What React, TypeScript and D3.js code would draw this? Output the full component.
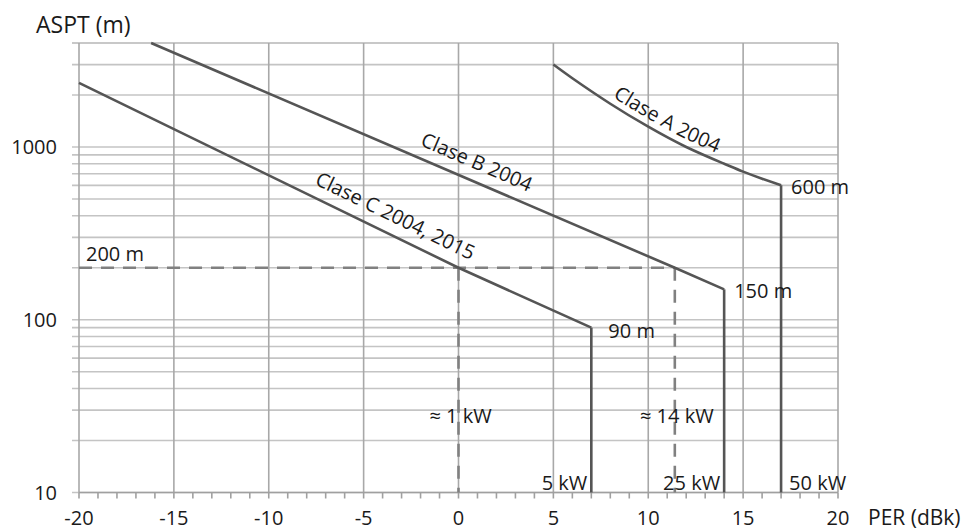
import React, { useEffect, useRef } from "react";
import * as d3 from "d3";

// Protection distance (ASPT, metres) against effective radiated power (PER, dBk)
type Pt = [number, number];

const claseA: Pt[] = [[5, 3000], [6, 2500], [8, 1780], [10, 1310], [12, 1000], [14, 800], [15, 720], [16, 655], [17, 600]];
const claseB: Pt[] = [[-16.2, 4000], [11.4, 200], [14, 150]];
const claseC: Pt[] = [[-20, 2350], [0, 200], [7, 90]];

const seriesNames = ["Clase A 2004", "Clase B 2004", "Clase C 2004, 2015"];
const seriesData: Pt[][] = [claseA, claseB, claseC];
const endLabels = ["600 m", "150 m", "90 m"];

// Reference: 200 m distance and the powers where classes C and B reach it
const refDistance = 200;
const refPowers = [0, 11.4];
const refPowerLabels = ["≈ 1 kW", "≈ 14 kW"];

// Maximum power of each class (dBk) and its value in kW
const maxPowers = [7, 14, 17];
const maxPowerLabels = ["5 kW", "25 kW", "50 kW"];

const xTicks = [-20, -15, -10, -5, 0, 5, 10, 15, 20];
const yTickLabels = [10, 100, 1000];

const W = 966;
const H = 531;
const FONT = "'Open Sans', 'Noto Sans', sans-serif";

export default function App() {
  const ref = useRef<SVGSVGElement | null>(null);

  useEffect(() => {
    const svg = d3.select(ref.current);
    svg.selectAll("*").remove();

    const x = d3.scaleLinear().domain([-20, 20]).range([79, 838]);
    const y = d3.scaleLog().domain([10, 4000]).range([492.5, 43]);
    const [x0, x1] = x.range();
    const [yb, yt] = y.range();

    // horizontal grid (1..9 per decade) with ticks extending left
    const hVals: number[] = [];
    for (const dec of [10, 100, 1000]) {
      for (let m = 1; m <= 9; m++) {
        const v = m * dec;
        if (v <= 4000) hVals.push(v);
      }
    }
    hVals.push(4000);
    svg.append("g")
      .selectAll("line")
      .data(hVals)
      .join("line")
      .attr("x1", x0 - 7)
      .attr("x2", x1)
      .attr("y1", (d) => y(d))
      .attr("y2", (d) => y(d))
      .attr("stroke", "#c4c4c4")
      .attr("stroke-width", 1.6);

    // vertical grid every 5 dB
    svg.append("g")
      .selectAll("line")
      .data(xTicks)
      .join("line")
      .attr("x1", (d) => x(d))
      .attr("x2", (d) => x(d))
      .attr("y1", yt)
      .attr("y2", yb)
      .attr("stroke", "#a8a8a8")
      .attr("stroke-width", 1.6);

    // x axis line and unit ticks
    svg.append("line")
      .attr("x1", x0).attr("x2", x1).attr("y1", yb).attr("y2", yb)
      .attr("stroke", "#a0a0a0").attr("stroke-width", 1.6);
    svg.append("g")
      .selectAll("line")
      .data(d3.range(-20, 21))
      .join("line")
      .attr("x1", (d) => x(d))
      .attr("x2", (d) => x(d))
      .attr("y1", yb)
      .attr("y2", yb + 6)
      .attr("stroke", "#a0a0a0")
      .attr("stroke-width", 1.6);

    // tick labels
    svg.append("g")
      .selectAll("text")
      .data(xTicks)
      .join("text")
      .attr("x", (d) => x(d))
      .attr("y", 525)
      .attr("text-anchor", "middle")
      .attr("font-family", FONT)
      .attr("font-size", 20)
      .attr("fill", "#1a1a1a")
      .text((d) => String(d));
    svg.append("g")
      .selectAll("text")
      .data(yTickLabels)
      .join("text")
      .attr("x", 57)
      .attr("y", (d) => y(d))
      .attr("dy", "0.35em")
      .attr("text-anchor", "end")
      .attr("font-family", FONT)
      .attr("font-size", 20)
      .attr("fill", "#1a1a1a")
      .text((d) => String(d));

    svg.append("text")
      .attr("x", 36).attr("y", 33)
      .attr("font-family", FONT).attr("font-size", 23).attr("fill", "#1a1a1a")
      .text("ASPT (m)");
    svg.append("text")
      .attr("x", 868).attr("y", 525)
      .attr("font-family", FONT).attr("font-size", 21).attr("fill", "#1a1a1a")
      .text("PER (dBk)");

    // dashed reference lines
    const dash = { stroke: "#808080", width: 2.6, array: "13 9" };
    svg.append("line")
      .attr("x1", x0).attr("x2", x(refPowers[1]))
      .attr("y1", y(refDistance)).attr("y2", y(refDistance))
      .attr("stroke", dash.stroke).attr("stroke-width", dash.width)
      .attr("stroke-dasharray", dash.array);
    svg.append("g")
      .selectAll("line")
      .data(refPowers)
      .join("line")
      .attr("x1", (d) => x(d)).attr("x2", (d) => x(d))
      .attr("y1", y(refDistance)).attr("y2", yb)
      .attr("stroke", dash.stroke).attr("stroke-width", dash.width)
      .attr("stroke-dasharray", dash.array);

    svg.append("text")
      .attr("x", x0 + 7).attr("y", y(refDistance) - 7)
      .attr("font-family", FONT).attr("font-size", 20).attr("fill", "#1a1a1a")
      .text(`${refDistance} m`);
    svg.append("g")
      .selectAll("text")
      .data(refPowers)
      .join("text")
      .attr("x", (d) => x(d) + 2)
      .attr("y", 423)
      .attr("text-anchor", "middle")
      .attr("font-family", FONT).attr("font-size", 20).attr("fill", "#1a1a1a")
      .text((_, i) => refPowerLabels[i]);

    // class curves: A is a smooth curve, B and C are straight segments
    const curves = [d3.curveNatural, d3.curveLinear, d3.curveLinear];

    const labelStart = [8.1, -2.1, -7.7];
    const labelOffset = [7, 12, 12];

    seriesData.forEach((data, i) => {
      const line = d3.line<Pt>()
        .x((d) => x(d[0]))
        .y((d) => y(d[1]))
        .curve(curves[i]);
      const p = svg.append("path")
        .attr("d", line(data))
        .attr("fill", "none")
        .attr("stroke", "#555555")
        .attr("stroke-width", 2.6);

      const last = data[data.length - 1];
      svg.append("line")
        .attr("x1", x(last[0])).attr("x2", x(last[0]))
        .attr("y1", y(last[1])).attr("y2", yb)
        .attr("stroke", "#555555").attr("stroke-width", 2.6);

      // offset path for the curve label
      const node = p.node() as SVGPathElement;
      const len = node.getTotalLength();
      const n = 300;
      const pts: Pt[] = [];
      const sx = x(labelStart[i]);
      for (let k = 0; k <= n; k++) {
        const a = node.getPointAtLength((len * k) / n);
        const b = node.getPointAtLength(Math.min(len, (len * k) / n + 1));
        const c = node.getPointAtLength(Math.max(0, (len * k) / n - 1));
        const dx = b.x - c.x;
        const dy = b.y - c.y;
        const l = Math.hypot(dx, dy) || 1;
        const nx = dy / l;
        const ny = -dx / l;
        const px = a.x + nx * labelOffset[i];
        const py = a.y + ny * labelOffset[i];
        if (px >= sx) pts.push([px, py]);
      }
      const id = `lbl-path-${i}`;
      svg.append("path")
        .attr("id", id)
        .attr("d", d3.line()(pts as [number, number][]))
        .attr("fill", "none")
        .attr("stroke", "none");
      svg.append("text")
        .attr("font-family", FONT).attr("font-size", 20).attr("fill", "#1a1a1a")
        .append("textPath")
        .attr("href", `#${id}`)
        .text(seriesNames[i]);
    });

    // end-point distance labels
    const endDx = [10, 10, 17];
    const endDy = [2, 2, 3];
    seriesData.forEach((data, i) => {
      const last = data[data.length - 1];
      svg.append("text")
        .attr("x", x(last[0]) + endDx[i])
        .attr("y", y(last[1]) + endDy[i])
        .attr("dy", "0.35em")
        .attr("font-family", FONT).attr("font-size", 20).attr("fill", "#1a1a1a")
        .text(endLabels[i]);
    });

    // maximum power labels
    svg.append("g")
      .selectAll("text")
      .data(maxPowers)
      .join("text")
      .attr("x", (d, i) => (i < 2 ? x(d) - 4 : x(d) + 8))
      .attr("y", 490)
      .attr("text-anchor", (_, i) => (i < 2 ? "end" : "start"))
      .attr("font-family", FONT).attr("font-size", 20).attr("fill", "#1a1a1a")
      .text((_, i) => maxPowerLabels[i]);
  }, []);

  return (
    <svg
      ref={ref}
      width={W}
      height={H}
      style={{ position: "absolute", left: 0, top: 0, background: "#fff" }}
    />
  );
}
